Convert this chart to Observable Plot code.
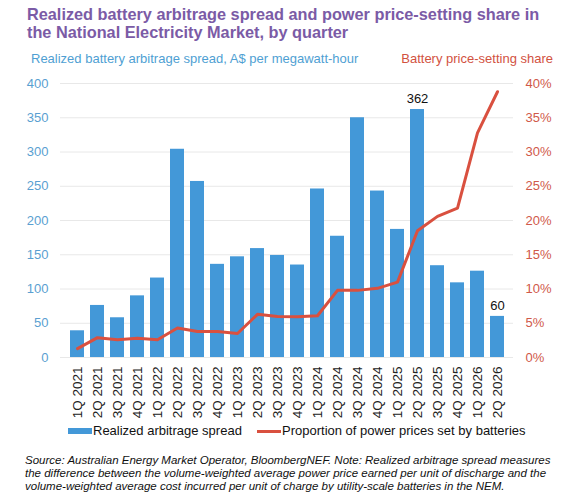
<!DOCTYPE html>
<html>
<head>
<meta charset="utf-8">
<script src="https://cdn.jsdelivr.net/npm/d3@7"></script>
<script src="https://cdn.jsdelivr.net/npm/@observablehq/plot@0.6"></script>
<style>
  body { margin: 0; background: #fff; }
  #wrap { position: relative; width: 572px; height: 500px; font-family: "Liberation Sans", Arial, Helvetica, sans-serif; }
  .abs { position: absolute; white-space: nowrap; }
  #title { left: 27px; top: 5px; font-size: 16.3px; line-height: 18px; font-weight: bold; color: #7b5ba6; }
  #subL { left: 31px; top: 51px; font-size: 13px; line-height: 15px; color: #4f9fd3; }
  #subR { right: 19px; top: 51px; font-size: 13px; line-height: 15px; color: #d2523f; }
  #chart { left: 0; top: 75px; }
  .leg { top: 423px; font-size: 13px; line-height: 15px; color: #111; }
  .sw { position: absolute; }
  #caption { left: 25px; top: 454px; font-size: 11.5px; line-height: 13px; font-style: italic; color: #111; }
</style>
</head>
<body>
<div id="wrap">
  <div id="title" class="abs">Realized battery arbitrage spread and power price-setting share in<br>the National Electricity Market, by quarter</div>
  <div id="subL" class="abs">Realized battery arbitrage spread, A$ per megawatt-hour</div>
  <div id="subR" class="abs">Battery price-setting share</div>
  <div id="chart" class="abs"></div>
  <div class="sw" style="left:68px; top:428px; width:24px; height:6px; background:#4398d8;"></div>
  <div class="abs leg" style="left:93px;">Realized arbitrage spread</div>
  <div class="sw" style="left:257px; top:430px; width:24px; height:3px; background:#d9503f;"></div>
  <div class="abs leg" style="left:282px;">Proportion of power prices set by batteries</div>
  <div id="caption" class="abs">Source: Australian Energy Market Operator, BloombergNEF. Note: Realized arbitrage spread measures<br>the difference between the volume-weighted average power price earned per unit of discharge and the<br>volume-weighted average cost incurred per unit of charge by utility-scale batteries in the NEM.</div>
</div>
<script>
const quarters = ["1Q 2021","2Q 2021","3Q 2021","4Q 2021","1Q 2022","2Q 2022","3Q 2022","4Q 2022",
  "1Q 2023","2Q 2023","3Q 2023","4Q 2023","1Q 2024","2Q 2024","3Q 2024","4Q 2024",
  "1Q 2025","2Q 2025","3Q 2025","4Q 2025","1Q 2026","2Q 2026"];
const spread = [39, 76, 58, 90, 116, 304, 257, 136, 147, 159, 149, 135, 246, 177, 350, 243, 187, 362, 134, 109, 126, 60];
const share = [1.3, 2.9, 2.6, 2.8, 2.6, 4.3, 3.8, 3.8, 3.5, 6.3, 6.0, 5.95, 6.1, 9.8, 9.8, 10.1, 11.0, 18.5, 20.6, 21.8, 32.8, 38.8];
const labeledQuarters = ["2Q 2025", "2Q 2026"];
const leftTicks = [0, 50, 100, 150, 200, 250, 300, 350, 400];
const rightTicks = [0, 5, 10, 15, 20, 25, 30, 35, 40];

const data = quarters.map((q, i) => ({q, spread: spread[i], share: share[i]}));
const toLeft = v => v * 10; // 40% maps onto 400

const chart = Plot.plot({
  width: 572,
  height: 348,
  marginLeft: 60,
  marginRight: 59,
  marginTop: 8,
  marginBottom: 66,
  style: {fontFamily: '"Liberation Sans", Arial, Helvetica, sans-serif', background: "transparent"},
  x: {domain: quarters, paddingInner: 0.32, paddingOuter: 0.16, label: null},
  y: {domain: [0, 400], label: null},
  marks: [
    Plot.gridY(leftTicks, {stroke: "#e8e8e8", strokeOpacity: 1}),
    Plot.barY(data, {x: "q", y: "spread", fill: "#4398d8"}),
    Plot.line(data, {x: "q", y: d => toLeft(d.share), stroke: "#d9503f", strokeWidth: 3, strokeLinejoin: "round", strokeLinecap: "round"}),
    Plot.text(data.filter(d => labeledQuarters.includes(d.q)), {x: "q", y: "spread", text: d => String(d.spread), dy: -11, fontSize: 13, fill: "#111"}),
    Plot.axisY(leftTicks, {anchor: "left", tickSize: 0, tickPadding: 12, fontSize: 13, color: "#5a9fd1", label: null}),
    Plot.axisY(rightTicks.map(toLeft), {anchor: "right", tickSize: 0, tickPadding: 12, fontSize: 13, color: "#d0594a", tickFormat: d => (d / 10) + "%", label: null}),
    Plot.axisX({tickRotate: -90, tickSize: 0, tickPadding: 9, fontSize: 13.5, color: "#222", label: null})
  ]
});
document.getElementById("chart").appendChild(chart);
</script>
</body>
</html>
